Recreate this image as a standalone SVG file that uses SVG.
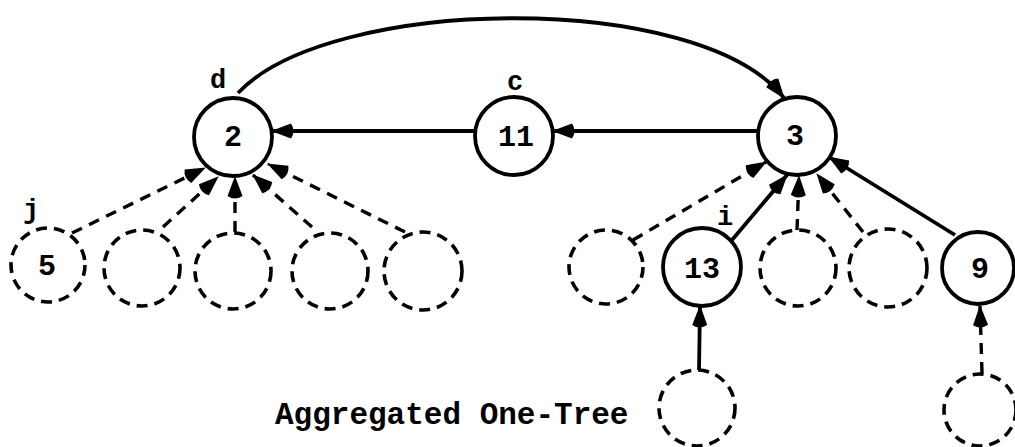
<svg xmlns="http://www.w3.org/2000/svg" width="1015" height="447" viewBox="0 0 1015 447">
<defs>
<marker id="ah" viewBox="0 0 24 16" refX="23" refY="8" markerWidth="24" markerHeight="16" markerUnits="userSpaceOnUse" orient="auto">
<path d="M24,8 L4,0.5 Q-1,8 4,15.5 Z" fill="#000"/>
</marker>
<style>
.node{fill:#fff;stroke:#000;stroke-width:3.8}
.ghost{fill:none;stroke:#000;stroke-width:3.6;stroke-dasharray:11 7}
.num{font-family:"Liberation Mono","DejaVu Sans Mono",monospace;font-weight:bold;font-size:30px;text-anchor:middle;fill:#000}
.tag{font-family:"Liberation Mono","DejaVu Sans Mono",monospace;font-weight:bold;font-size:27px;text-anchor:middle;fill:#000}
.title{font-family:"Liberation Mono","DejaVu Sans Mono",monospace;font-weight:bold;font-size:31px;fill:#000}
.edge{stroke:#000;stroke-width:3.8;fill:none;marker-end:url(#ah)}
.dedge{stroke:#000;stroke-width:3.4;fill:none;stroke-dasharray:11 8;marker-end:url(#ah)}
</style>
</defs>
<rect width="1015" height="447" fill="#fff"/>
<g id="connectors">
<path class="edge" d="M475,131 L272,131"/>
<path class="edge" d="M758,131 L553,131"/>
<path class="edge" d="M238,93 C330,-5 700,-10 784,98"/>
<path class="dedge" d="M72,233 L205,168"/>
<path class="dedge" d="M163,227 L218,177"/>
<path class="dedge" d="M235,232 L235,177"/>
<path class="dedge" d="M312,227 L253,175"/>
<path class="dedge" d="M405,232 L268,164"/>
<path class="dedge" d="M633,240 L766,162"/>
<path class="edge" d="M732,240 L787,175"/>
<path class="dedge" d="M797,230 L799,176"/>
<path class="dedge" d="M863,232 L817,174"/>
<path class="edge" d="M955,235 L829,157"/>
<path class="edge" d="M699,370 L700,306"/>
<path class="dedge" d="M982,373 L980,306"/>
</g>
<g id="node-2"><circle class="node" cx="233" cy="137" r="39"/><text class="num" x="233" y="146">2</text><text class="tag" x="218" y="88">d</text></g>
<g id="node-11"><circle class="node" cx="514" cy="136" r="39"/><text class="num" x="516" y="146">11</text><text class="tag" x="515" y="90">c</text></g>
<g id="node-3"><circle class="node" cx="797" cy="136" r="39"/><text class="num" x="795" y="145">3</text></g>
<g id="node-5"><circle class="ghost" cx="48" cy="265" r="37"/><text class="num" x="47" y="275">5</text><text class="tag" x="31" y="218">j</text></g>
<g id="child-2a"><circle class="ghost" cx="142" cy="268" r="38"/></g>
<g id="child-2b"><circle class="ghost" cx="233" cy="271" r="38"/></g>
<g id="child-2c"><circle class="ghost" cx="330" cy="271" r="38"/></g>
<g id="child-2d"><circle class="ghost" cx="423" cy="271" r="39"/></g>
<g id="child-3a"><circle class="ghost" cx="606" cy="267" r="37"/></g>
<g id="node-13"><circle class="node" cx="702" cy="267" r="39"/><text class="num" x="702" y="278">13</text><text class="tag" x="725" y="225">i</text></g>
<g id="child-3b"><circle class="ghost" cx="798" cy="268" r="38"/></g>
<g id="child-3c"><circle class="ghost" cx="888" cy="268" r="39"/></g>
<g id="node-9"><circle class="node" cx="978" cy="268" r="36"/><text class="num" x="980" y="278">9</text></g>
<g id="child-13"><circle class="ghost" cx="697" cy="408" r="38"/></g>
<g id="child-9"><circle class="ghost" cx="980" cy="410" r="36"/></g>
<text class="title" x="275" y="424">Aggregated One-Tree</text>
</svg>
